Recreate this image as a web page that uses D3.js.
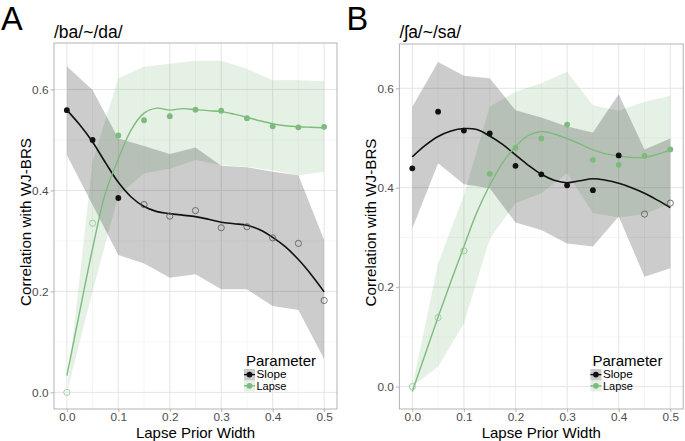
<!DOCTYPE html>
<html>
<head>
<meta charset="utf-8">
<script src="https://cdn.jsdelivr.net/npm/d3@7"></script>
<style>
  html, body { margin: 0; padding: 0; background: #fff; }
  svg { display: block; font-family: "Liberation Sans", Arial, Helvetica, sans-serif; }
</style>
</head>
<body>
<svg id="chart" width="685" height="441"></svg>
<script>
// ---------- data ----------
const xVals = [0, 0.05, 0.1, 0.15, 0.2, 0.25, 0.3, 0.35, 0.4, 0.45, 0.5];
const fitX = [0, 0.025, 0.05, 0.075, 0.1, 0.125, 0.15, 0.175, 0.2, 0.225, 0.25, 0.275, 0.3, 0.325, 0.35, 0.375, 0.4, 0.425, 0.45, 0.475, 0.5];
const xTicks = [0, 0.1, 0.2, 0.3, 0.4, 0.5];
const xTickLabels = ["0.0", "0.1", "0.2", "0.3", "0.4", "0.5"];
const yTicks = [0, 0.2, 0.4, 0.6];
const yTickLabels = ["0.0", "0.2", "0.4", "0.6"];
const panelLetters = ["A", "B"];
const panelTitles = ["/ba/~/da/", "/\u0283a/~/sa/"];
const seriesNames = ["Slope", "Lapse"];

// Panel A
const aSlope    = [0.559, 0.500, 0.385, 0.372, 0.349, 0.360, 0.326, 0.328, 0.306, 0.295, 0.182];
const aSlopeSig = [1, 1, 1, 0, 0, 0, 0, 0, 0, 0, 0];
const aSlopeHi  = [0.646, 0.599, 0.503, 0.488, 0.472, 0.485, 0.449, 0.446, 0.437, 0.430, 0.302];
const aSlopeLo  = [0.470, 0.371, 0.272, 0.255, 0.227, 0.234, 0.204, 0.204, 0.171, 0.163, 0.066];
const aSlopeFit = [0.559, 0.530, 0.496, 0.455, 0.416, 0.387, 0.368, 0.358, 0.354, 0.351, 0.348, 0.343, 0.337, 0.334, 0.331, 0.322, 0.307, 0.288, 0.263, 0.233, 0.199];
const aLapse    = [0.000, 0.335, 0.509, 0.539, 0.547, 0.560, 0.558, 0.543, 0.527, 0.525, 0.526];
const aLapseSig = [0, 0, 1, 1, 1, 1, 1, 1, 1, 1, 1];
const aLapseHi  = [0.000, 0.458, 0.622, 0.645, 0.651, 0.657, 0.657, 0.641, 0.618, 0.618, 0.616];
const aLapseLo  = [0.000, 0.200, 0.390, 0.434, 0.443, 0.460, 0.450, 0.447, 0.440, 0.430, 0.437];
const aLapseFit = [0.033, 0.160, 0.285, 0.395, 0.462, 0.520, 0.553, 0.563, 0.559, 0.562, 0.560, 0.558, 0.556, 0.551, 0.545, 0.538, 0.532, 0.528, 0.526, 0.525, 0.524];

// Panel B
const bSlope    = [0.439, 0.553, 0.515, 0.509, 0.444, 0.427, 0.405, 0.395, 0.465, 0.347, 0.369];
const bSlopeSig = [1, 1, 1, 1, 1, 1, 1, 1, 1, 0, 0];
const bSlopeHi  = [0.563, 0.653, 0.625, 0.620, 0.556, 0.541, 0.523, 0.511, 0.588, 0.477, 0.499];
const bSlopeLo  = [0.318, 0.449, 0.407, 0.399, 0.330, 0.315, 0.288, 0.282, 0.342, 0.221, 0.238];
const bSlopeFit = [0.462, 0.485, 0.503, 0.514, 0.519, 0.517, 0.504, 0.487, 0.466, 0.445, 0.427, 0.415, 0.410, 0.414, 0.418, 0.415, 0.409, 0.400, 0.389, 0.375, 0.360];
const bLapse    = [0.000, 0.139, 0.273, 0.428, 0.480, 0.499, 0.527, 0.456, 0.446, 0.464, 0.477];
const bLapseSig = [0, 0, 0, 1, 1, 1, 1, 1, 1, 1, 1];
const bLapseHi  = [0.000, 0.248, 0.385, 0.563, 0.593, 0.610, 0.633, 0.566, 0.555, 0.573, 0.585];
const bLapseLo  = [0.000, 0.040, 0.127, 0.297, 0.369, 0.389, 0.429, 0.349, 0.340, 0.347, 0.369];
const bLapseFit = [-0.010, 0.065, 0.140, 0.212, 0.282, 0.350, 0.405, 0.450, 0.483, 0.505, 0.513, 0.508, 0.499, 0.488, 0.476, 0.468, 0.464, 0.461, 0.461, 0.467, 0.476];

// ---------- style ----------
const SLOPE_COL = "#111111";
const LAPSE_COL = "#7dbb7d";
const FONT = '"Liberation Sans", Arial, Helvetica, sans-serif';

const svg = d3.select("#chart");

const panels = [
  { letter: panelLetters[0], title: panelTitles[0], left: 54, right: 337, top: 43, bottom: 409, yDom: [-0.033, 0.692],
    slope: aSlope, slopeSig: aSlopeSig, slopeHi: aSlopeHi, slopeLo: aSlopeLo, slopeFit: aSlopeFit,
    lapse: aLapse, lapseSig: aLapseSig, lapseHi: aLapseHi, lapseLo: aLapseLo, lapseFit: aLapseFit, offset: 0 },
  { letter: panelLetters[1], title: panelTitles[1], left: 399.4, right: 683.2, top: 44, bottom: 409, yDom: [-0.045, 0.689],
    slope: bSlope, slopeSig: bSlopeSig, slopeHi: bSlopeHi, slopeLo: bSlopeLo, slopeFit: bSlopeFit,
    lapse: bLapse, lapseSig: bLapseSig, lapseHi: bLapseHi, lapseLo: bLapseLo, lapseFit: bLapseFit, offset: 345.4 }
];

panels.forEach(p => {
  const g = svg.append("g");
  const x = d3.scaleLinear().domain([-0.025, 0.525]).range([p.left, p.right]);
  const y = d3.scaleLinear().domain(p.yDom).range([p.bottom, p.top]);

  const clipId = "clip" + p.letter;
  svg.append("clipPath").attr("id", clipId).append("rect")
    .attr("x", p.left).attr("y", p.top).attr("width", p.right - p.left).attr("height", p.bottom - p.top);

  // minor grid
  const xMinor = [0.05, 0.15, 0.25, 0.35, 0.45];
  const yMinor = [0.1, 0.3, 0.5];
  g.selectAll(".xminor").data(xMinor).enter().append("line")
    .attr("x1", d => x(d)).attr("x2", d => x(d)).attr("y1", p.top).attr("y2", p.bottom)
    .attr("stroke", "#f0f0f0").attr("stroke-width", 0.6);
  g.selectAll(".yminor").data(yMinor).enter().append("line")
    .attr("y1", d => y(d)).attr("y2", d => y(d)).attr("x1", p.left).attr("x2", p.right)
    .attr("stroke", "#f0f0f0").attr("stroke-width", 0.6);
  // major grid
  g.selectAll(".xmajor").data(xTicks).enter().append("line")
    .attr("x1", d => x(d)).attr("x2", d => x(d)).attr("y1", p.top).attr("y2", p.bottom)
    .attr("stroke", "#e4e4e4").attr("stroke-width", 1);
  g.selectAll(".ymajor").data(yTicks).enter().append("line")
    .attr("y1", d => y(d)).attr("y2", d => y(d)).attr("x1", p.left).attr("x2", p.right)
    .attr("stroke", "#e4e4e4").attr("stroke-width", 1);

  const plot = g.append("g").attr("clip-path", `url(#${clipId})`);

  // ribbons
  const area = d3.area().x((d) => x(d.x)).y0(d => y(d.lo)).y1(d => y(d.hi));
  const lapseBand = xVals.map((v, i) => ({ x: v, lo: p.lapseLo[i], hi: p.lapseHi[i] }));
  const slopeBand = xVals.map((v, i) => ({ x: v, lo: p.slopeLo[i], hi: p.slopeHi[i] }));
  plot.append("path").datum(lapseBand).attr("d", area).attr("fill", LAPSE_COL).attr("fill-opacity", 0.2);
  plot.append("path").datum(slopeBand).attr("d", area).attr("fill", "#000").attr("fill-opacity", 0.2);

  // fits
  const line = d3.line().x(d => x(d.x)).y(d => y(d.y)).curve(d3.curveCatmullRom.alpha(0.5));
  plot.append("path").datum(fitX.map((v, i) => ({ x: v, y: p.slopeFit[i] })))
    .attr("d", line).attr("fill", "none").attr("stroke", SLOPE_COL).attr("stroke-width", 1.6);
  plot.append("path").datum(fitX.map((v, i) => ({ x: v, y: p.lapseFit[i] })))
    .attr("d", line).attr("fill", "none").attr("stroke", LAPSE_COL).attr("stroke-width", 1.4);

  // points
  function drawPoints(vals, sig, col, hollowCol) {
    plot.selectAll(null).data(xVals.map((v, i) => ({ x: v, y: vals[i], s: sig[i] }))).enter()
      .append("circle")
      .attr("cx", d => x(d.x)).attr("cy", d => y(d.y))
      .attr("r", d => d.s ? 2.9 : 3.1)
      .attr("fill", d => d.s ? col : "none")
      .attr("stroke", d => d.s ? "none" : hollowCol)
      .attr("stroke-width", 0.8);
  }
  drawPoints(p.slope, p.slopeSig, SLOPE_COL, "#555555");
  drawPoints(p.lapse, p.lapseSig, LAPSE_COL, "#8fc78f");

  // border
  g.append("rect").attr("x", p.left).attr("y", p.top)
    .attr("width", p.right - p.left).attr("height", p.bottom - p.top)
    .attr("fill", "none").attr("stroke", "#b3b3b3").attr("stroke-width", 1);

  // axes
  const xAxis = d3.axisBottom(x).tickValues(xTicks).tickFormat((d, i) => xTickLabels[i]).tickSize(3.2).tickPadding(0.6);
  const gx = g.append("g").attr("transform", `translate(0,${p.bottom})`).call(xAxis);
  const yAxis = d3.axisLeft(y).tickValues(yTicks).tickFormat((d, i) => yTickLabels[i]).tickSize(3.5).tickPadding(2);
  const gy = g.append("g").attr("transform", `translate(${p.left},0)`).call(yAxis);
  [gx, gy].forEach(ax => {
    ax.select(".domain").remove();
    ax.selectAll(".tick line").attr("stroke", "#b3b3b3");
    ax.selectAll(".tick text").attr("fill", "#4d4d4d").attr("font-size", 11.8).attr("font-family", FONT);
  });

  // titles
  const cx = (p.left + p.right) / 2;
  g.append("text").attr("x", cx).attr("y", 437.6).attr("text-anchor", "middle")
    .attr("font-size", 15).attr("fill", "#000").text("Lapse Prior Width");
  g.append("text").attr("transform", `translate(${31 + p.offset},${(p.top + p.bottom) / 2 - 4}) rotate(-90)`)
    .attr("text-anchor", "middle").attr("font-size", 15.2).attr("fill", "#000").text("Correlation with WJ-BRS");
  g.append("text").attr("x", p.left).attr("y", 38).attr("font-size", 17.5).attr("fill", "#000").text(p.title);
  g.append("text").attr("x", 1 + p.offset).attr("y", 29.5).attr("font-size", 32.5).attr("fill", "#000").text(p.letter);

  // legend
  const lx = 244 + p.offset + (p.letter === "B" ? 1 : 0);
  const ly = 369;
  const kh = 11.2;
  g.append("text").attr("x", lx + 2).attr("y", 365.8).attr("font-size", 15).attr("fill", "#000").text("Parameter");
  const keys = [
    { name: seriesNames[0], col: SLOPE_COL, bg: "#000" },
    { name: seriesNames[1], col: LAPSE_COL, bg: LAPSE_COL }
  ];
  keys.forEach((k, i) => {
    const ky = ly + i * kh;
    g.append("rect").attr("x", lx).attr("y", ky).attr("width", 11).attr("height", kh)
      .attr("fill", k.bg).attr("fill-opacity", 0.2);
    g.append("line").attr("x1", lx).attr("x2", lx + 11).attr("y1", ky + kh / 2).attr("y2", ky + kh / 2)
      .attr("stroke", k.col).attr("stroke-width", 1.4);
    g.append("circle").attr("cx", lx + 5.5).attr("cy", ky + kh / 2).attr("r", 2.9).attr("fill", k.col);
    g.append("text").attr("x", lx + 12.5).attr("y", ky + 9.4).attr("font-size", 10.9)
      .attr("textLength", 30).attr("lengthAdjust", "spacingAndGlyphs")
      .attr("fill", "#000").text(k.name);
  });
});
</script>
</body>
</html>
